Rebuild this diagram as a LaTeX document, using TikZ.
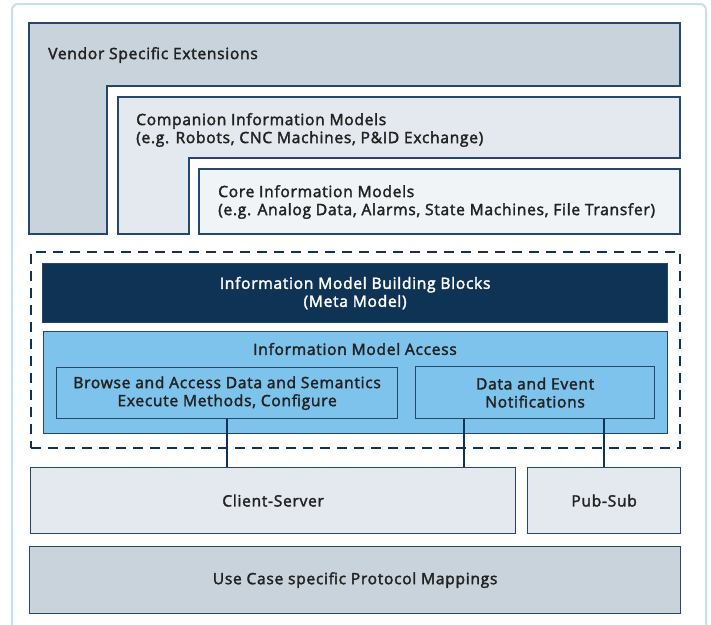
\documentclass[tikz,border=0pt]{standalone}
\usepackage{fontspec}
\setmainfont{Open Sans}[FakeBold=2.2, LetterSpace=4.5]
\usetikzlibrary{positioning}
\definecolor{frameblue}{HTML}{C9DDF0}
\definecolor{edge}{HTML}{24476A}
\definecolor{navy}{HTML}{0F3354}
\definecolor{skyblue}{HTML}{7DC3EC}
\definecolor{greyblue}{HTML}{C8D3DC}
\definecolor{palegrey}{HTML}{E3E9EE}
\definecolor{paler}{HTML}{F0F4F6}
\definecolor{ink}{HTML}{222222}
\tikzset{
  every picture/.style={x=1pt, y=-1pt},
  blk/.style={draw=edge, line width=1.2pt, anchor=north west, inner sep=0pt,
    text=ink, align=center, font=\fontsize{15.6}{18}\selectfont},
  lbl/.style={text=ink, anchor=west, align=left, inner sep=0pt,
    font=\fontsize{15.6}{18}\selectfont},
  wire/.style={draw=navy, line width=2pt},
}
\begin{document}
\begin{tikzpicture}
		\useasboundingbox (0,0) rectangle (711,624);
		% outer frame
		\draw[frameblue, line width=2pt, rounded corners=6pt] (12,4) rectangle (706,660);

		% model layers
		\draw[edge, line width=1.2pt, fill=greyblue] (29,23) -- (680,23) -- (680,86) -- (107,86) -- (107,234) -- (29,234) -- cycle;
		\node[lbl] (vendor) at (48,55) {Vendor Specific Extensions};

		\draw[edge, line width=1.2pt, fill=palegrey] (118,97) -- (680,97) -- (680,158) -- (189,158) -- (189,234) -- (118,234) -- cycle;
		\node[lbl] (companion) at (136,130) {Companion Information Models\\(e.g. Robots, CNC Machines, P\&ID Exchange)};

		\draw[edge, line width=1.2pt, fill=paler] (199,169) rectangle (680,234);
		\node[lbl] (core) at (218,202) {Core Information Models\\(e.g. Analog Data, Alarms, State Machines, File Transfer)};

		% meta model
		\node[draw=navy, line width=2pt, dash pattern=on 10pt off 7pt, anchor=north west, minimum width=649, minimum height=196] (meta) at (30,251) {};
		\node[blk, fill=navy, text=white, minimum width=625, minimum height=59] (blocks) at (42,263) {Information Model Building Blocks\\(Meta Model)};
		\node[blk, fill=skyblue, minimum width=624, minimum height=102] (access) at (43,331) {};
		\node[text=ink, font=\fontsize{15.6}{18}\selectfont] (accesslbl) at (355,349) {Information Model Access};
		\node[blk, fill=skyblue, minimum width=341, minimum height=51] (browse) at (56,367) {Browse and Access Data and Semantics\\Execute Methods, Configure};
		\node[blk, fill=skyblue, minimum width=239, minimum height=52] (notify) at (415,366) {Data and Event\\Notifications};

		% transports
		\node[blk, fill=palegrey, minimum width=485, minimum height=66] (cs) at (30,467) {Client-Server};
		\node[blk, fill=palegrey, minimum width=153, minimum height=66] (pubsub) at (527,467) {Pub-Sub};
		\node[blk, fill=greyblue, minimum width=651, minimum height=67] (mapping) at (29,546) {Use Case specific Protocol Mappings};

		\coordinate (tap) at ([xshift=-71pt]notify.south);
		\draw[wire] (browse.south) -- (browse.south |- cs.north);
		\draw[wire] (tap) -- (tap |- cs.north);
		\draw[wire] (notify.south -| pubsub.north) -- (pubsub.north);
	\end{tikzpicture}
\end{document}
